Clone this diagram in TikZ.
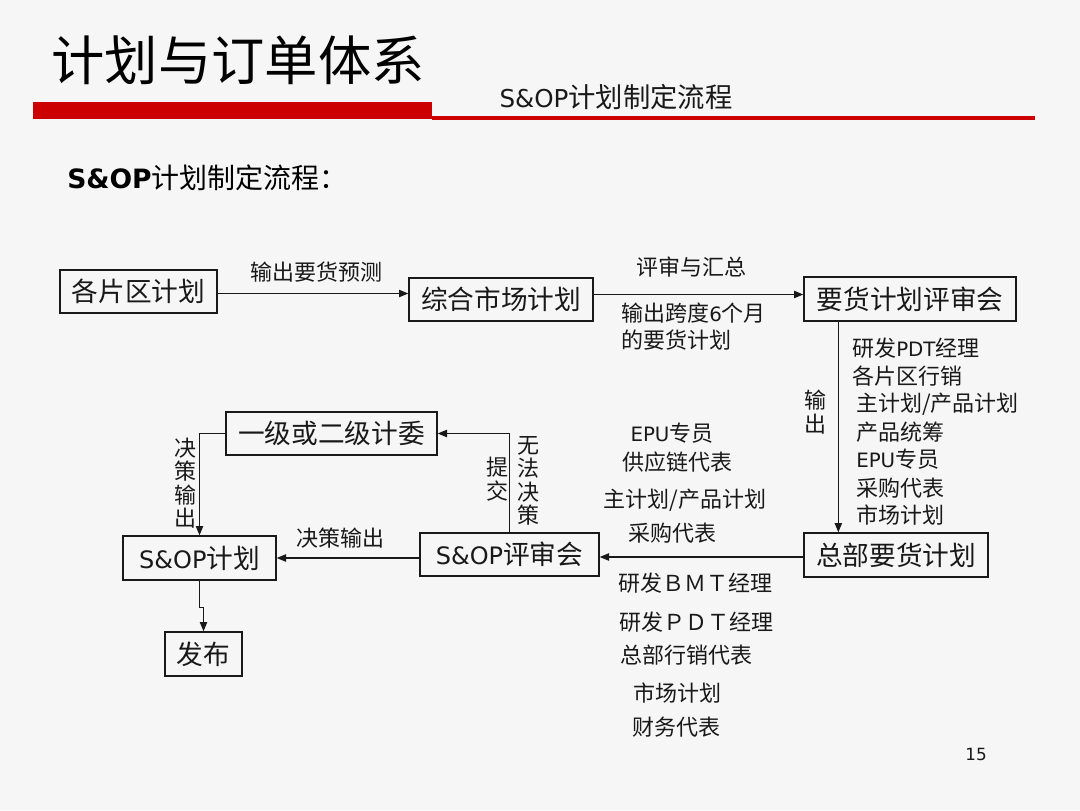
\documentclass[tikz,border=0pt]{standalone}
\usepackage{fontspec}
\setmainfont{Noto Sans CJK SC}
\newfontfamily\lat[Scale=0.9]{DejaVu Sans}
\newfontfamily\latb[Scale=0.95]{DejaVu Sans Bold}
\usetikzlibrary{arrows.meta,calc}
\definecolor{bg}{RGB}{246,246,246}
\definecolor{barred}{RGB}{204,0,0}
\definecolor{ink}{RGB}{25,25,25}
\tikzset{
 box/.style={draw=ink,line width=1pt,inner sep=0pt,font=\fontsize{20}{22}\selectfont,text=ink},
 arr/.style={draw=ink,line width=0.9pt,-{Triangle[length=7pt,width=5.5pt]}},
 lbl/.style={font=\fontsize{16.5}{18}\selectfont,text=ink,inner sep=0pt},
 vlbl/.style={lbl,align=center,font=\fontsize{16.5}{17.5}\selectfont},
}
\begin{document}
\begin{tikzpicture}[x=0.75pt,y=-0.75pt]
\useasboundingbox (0,0) rectangle (1080,810);
\fill[bg] (0,0) rectangle (1080,810);
% header
\node[inner sep=0pt,text=black,font=\fontsize{40}{44}\selectfont] (title) at (238,60) {计划与订单体系};
\fill[barred] (33,102) rectangle (432,119);
\fill[barred] (432,116) rectangle (1035,120);
\node[inner sep=0pt,text=ink,font=\fontsize{20.5}{22}\selectfont] (sub) at (616,97) {{\lat S\&OP}计划制定流程};
\node[inner sep=0pt,anchor=west,text=black,font=\fontsize{21}{23}\selectfont] (head) at (67,178) {{\latb S\&OP}计划制定流程：};
% boxes
\node[box,minimum width={157*0.75pt},minimum height={43*0.75pt}] (A) at (138.5,291.5) {各片区计划};
\node[box,minimum width={184*0.75pt},minimum height={43*0.75pt}] (B) at (501,299.5) {综合市场计划};
\node[box,minimum width={212*0.75pt},minimum height={44*0.75pt}] (C) at (910,299) {要货计划评审会};
\node[box,minimum width={184*0.75pt},minimum height={44*0.75pt}] (D) at (896,555) {总部要货计划};
\node[box,minimum width={179*0.75pt},minimum height={43*0.75pt}] (E) at (509.5,554.5) {{\lat S\&OP}评审会};
\node[box,minimum width={153*0.75pt},minimum height={44*0.75pt}] (F) at (199.5,558) {{\lat S\&OP}计划};
\node[box,minimum width={211*0.75pt},minimum height={43*0.75pt}] (G) at (331.5,433.5) {一级或二级计委};
\node[box,minimum width={77*0.75pt},minimum height={44*0.75pt}] (H) at (203.5,654) {发布};
% connectors
\draw[arr] ($(A.east)+(0,2)$) -- ($(A.east -| B.west)+(0,2)$);
\draw[arr] ($(B.east)+(0,-5)$) -- ($(B.east -| C.west)+(0,-5)$);
\draw[arr] ($(C.south west)+(35,0)$) -- ($(D.north west)+(35,0)$);
\draw[arr] ($(D.west)+(0,2)$) -- ($(D.west -| E.east)+(0,2)$);
\draw[arr] (E.north) |- (G.east);
\draw[arr] (E.west |- F.east) -- (F.east);
\draw[arr] (G.west) -| (F.north);
\draw[arr] (F.south) -- ++(0,27) -| (H.north);
% labels
\node[lbl] (l1) at (316,272) {输出要货预测};
\node[lbl] (l2) at (691,267) {评审与汇总};
\node[lbl,anchor=west] (l3) at (621,313) {输出跨度{\lat 6}个月};
\node[lbl,anchor=west] (l4) at (621,340) {的要货计划};
\node[vlbl] (l5) at (815,412) {输\\出};
\node[lbl,anchor=west] (r1) at (852,348) {研发{\lat PDT}经理};
\node[lbl,anchor=west] (r2) at (852,376) {各片区行销};
\node[lbl,anchor=west] (r3) at (856,404) {主计划/产品计划};
\node[lbl,anchor=west] (r4) at (856,432) {产品统筹};
\node[lbl,anchor=west] (r5) at (856,459) {{\lat EPU}专员};
\node[lbl,anchor=west] (r6) at (856,488) {采购代表};
\node[lbl,anchor=west] (r7) at (856,515) {市场计划};
\node[lbl] (m1) at (672,433) {{\lat EPU}专员};
\node[lbl] (m2) at (677,462) {供应链代表};
\node[lbl] (m3) at (685,500) {主计划/产品计划};
\node[lbl] (m4) at (672,533) {采购代表};
\node[lbl] (m5) at (695,583) {研发ＢＭＴ经理};
\node[lbl] (m6) at (696,622) {研发ＰＤＴ经理};
\node[lbl] (m7) at (686,655) {总部行销代表};
\node[lbl] (m8) at (677,693) {市场计划};
\node[lbl] (m9) at (676,727) {财务代表};
\node[lbl] (l6) at (340,538) {决策输出};
\node[vlbl] (l7) at (185,483) {决\\策\\输\\出};
\node[vlbl] (l8) at (497,479) {提\\交};
\node[vlbl] (l9) at (528,481) {无\\法\\决\\策};
\node[inner sep=0pt,font=\lat\fontsize{14}{16}\selectfont,text=ink] (pg) at (976,754) {15};
\end{tikzpicture}
\end{document}
